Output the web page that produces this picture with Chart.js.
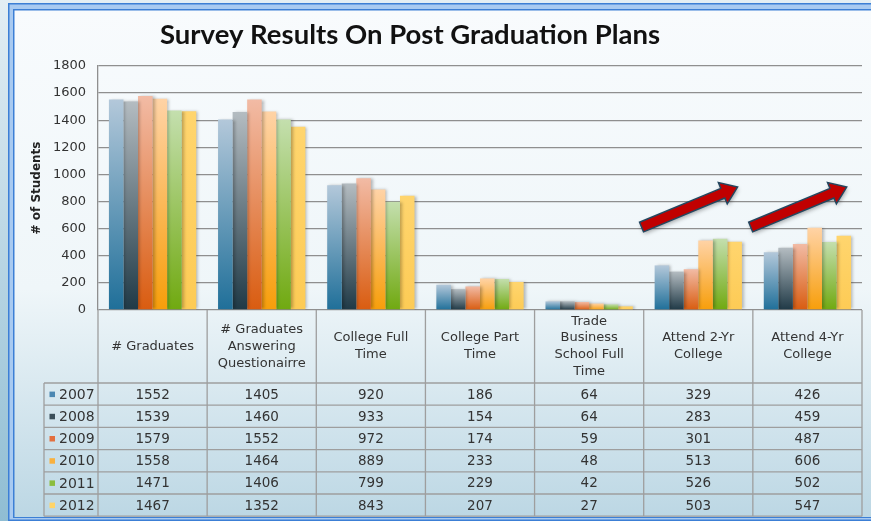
<!DOCTYPE html>
<html>
<head>
<meta charset="utf-8">
<script src="https://cdn.jsdelivr.net/npm/chart.js@4.4.1/dist/chart.umd.min.js"></script>
<style>
  html, body { margin: 0; padding: 0; overflow: hidden; }
</style>
</head>
<body>
<canvas id="myChart" width="871" height="521"></canvas>
<script>
// chart data
const categories = [
  ['# Graduates'],
  ['# Graduates', 'Answering', 'Questionairre'],
  ['College Full', 'Time'],
  ['College Part', 'Time'],
  ['Trade', 'Business', 'School Full', 'Time'],
  ['Attend 2-Yr', 'College'],
  ['Attend 4-Yr', 'College'],
];
const years = ['2007', '2008', '2009', '2010', '2011', '2012'];
const values2007 = [1552, 1405, 920, 186, 64, 329, 426];
const values2008 = [1539, 1460, 933, 154, 64, 283, 459];
const values2009 = [1579, 1552, 972, 174, 59, 301, 487];
const values2010 = [1558, 1464, 889, 233, 48, 513, 606];
const values2011 = [1471, 1406, 799, 229, 42, 526, 502];
const values2012 = [1467, 1352, 843, 207, 27, 503, 547];
const yMin = 0;
const yMax = 1800;
const yStep = 200;
const arrowCategories = [5, 6]; // the two red arrows over the college columns

const series = [values2007, values2008, values2009, values2010, values2011, values2012];

// colours for each year
const topColors = ['#b3c8da', '#b4bcc1', '#f2bba5', '#ffd3a6', '#c4dfae', '#ffd56e'];
const bottomColors = ['#1f6f99', '#1f3946', '#d95c10', '#f79e0a', '#70a910', '#fdcb55'];
const keyColors = ['#4b87b2', '#3b4f5a', '#e37040', '#f9b13e', '#8bbd3e', '#ffd468'];

const gridColor = '#8f8f8f';
const tableLine = '#9e9e9e';
const textColor = '#333333';

function barGradient(context, i) {
  const chart = context.chart;
  const y = chart.scales.y;
  if (!chart.chartArea || !y || typeof context.raw !== 'number') return keyColors[i];
  const top = y.getPixelForValue(context.raw);
  const bottom = y.getPixelForValue(0);
  const g = chart.ctx.createLinearGradient(0, top, 0, bottom);
  g.addColorStop(0, topColors[i]);
  g.addColorStop(1, bottomColors[i]);
  return g;
}

// slide background, blue frame and title
const backdrop = {
  id: 'backdrop',
  beforeDraw(chart) {
    const { ctx, width, height } = chart;
    ctx.save();
    let g = ctx.createLinearGradient(0, 0, 0, height);
    g.addColorStop(0, '#e3eef4');
    g.addColorStop(1, '#8fbdd3');
    ctx.fillStyle = g;
    ctx.fillRect(0, 0, width, height);

    ctx.fillStyle = '#3c7fd5';
    ctx.fillRect(8, 3, width, 518);
    ctx.fillStyle = '#a8caf1';
    ctx.fillRect(9.5, 4.5, width, 515);
    ctx.fillStyle = '#3c7fd5';
    ctx.fillRect(13, 9, width, 509);

    g = ctx.createLinearGradient(0, 10, 0, 517);
    g.addColorStop(0, '#f8fbfd');
    g.addColorStop(0.55, '#eff6f9');
    g.addColorStop(1, '#bcd7e4');
    ctx.fillStyle = g;
    ctx.fillRect(14.5, 10.5, width, 506.5);

    ctx.fillStyle = '#111';
    ctx.font = 'bold 27.5px Lato';
    ctx.textAlign = 'center';
    ctx.textBaseline = 'middle';
    ctx.fillText('Survey Results On Post Graduation Plans', 410, 35);
    ctx.restore();
  },
};

// soft shadow under the bars, then the red arrows
const barShadow = {
  id: 'barShadow',
  beforeDatasetsDraw(chart) {
    const ctx = chart.ctx;
    ctx.save();
    ctx.shadowColor = 'rgba(0,0,0,0.28)';
    ctx.shadowBlur = 3;
    ctx.shadowOffsetX = 2;
  },
  afterDatasetsDraw(chart) {
    const { ctx, scales: { x, y } } = chart;
    ctx.restore();

    arrowCategories.forEach((c) => {
      const x0 = x.getPixelForValue(c - 0.52), y0 = y.getPixelForValue(612);
      const x1 = x.getPixelForValue(c + 0.36), y1 = y.getPixelForValue(907);
      const len = Math.hypot(x1 - x0, y1 - y0);
      const ux = (x1 - x0) / len, uy = (y1 - y0) / len;
      const nx = -uy, ny = ux;
      const sw = 5.2, hw = 11.5, hl = 16;
      const bx = x1 - ux * hl, by = y1 - uy * hl;
      ctx.save();
      ctx.shadowColor = 'rgba(0,0,0,0.35)';
      ctx.shadowBlur = 4;
      ctx.shadowOffsetX = 1;
      ctx.shadowOffsetY = 2;
      ctx.beginPath();
      ctx.moveTo(x0 + nx * sw, y0 + ny * sw);
      ctx.lineTo(bx + nx * sw, by + ny * sw);
      ctx.lineTo(bx + nx * hw, by + ny * hw);
      ctx.lineTo(x1, y1);
      ctx.lineTo(bx - nx * hw, by - ny * hw);
      ctx.lineTo(bx - nx * sw, by - ny * sw);
      ctx.lineTo(x0 - nx * sw, y0 - ny * sw);
      ctx.closePath();
      ctx.fillStyle = '#c00000';
      ctx.fill();
      ctx.shadowColor = 'transparent';
      ctx.lineWidth = 1.5;
      ctx.strokeStyle = '#24475f';
      ctx.stroke();
      ctx.restore();
    });
  },
};

// data table under the plot
const dataTable = {
  id: 'dataTable',
  afterDraw(chart) {
    const { ctx, chartArea, scales: { x } } = chart;
    const edges = categories.map((c, i) => x.getPixelForValue(i - 0.5));
    edges.push(x.getPixelForValue(categories.length - 0.5));
    const top = chartArea.bottom;
    const headerH = 73;
    const rowH = 22.2;
    const keyLeft = 44;
    const headBottom = top + headerH;
    const bottom = headBottom + rowH * years.length;
    const right = edges[edges.length - 1];

    ctx.save();
    ctx.strokeStyle = tableLine;
    ctx.lineWidth = 1.3;
    ctx.beginPath();
    edges.forEach((e) => {
      ctx.moveTo(e, top);
      ctx.lineTo(e, bottom);
    });
    ctx.moveTo(keyLeft, headBottom);
    ctx.lineTo(keyLeft, bottom);
    for (let r = 0; r <= years.length; r++) {
      const yy = headBottom + rowH * r;
      ctx.moveTo(keyLeft, yy);
      ctx.lineTo(right, yy);
    }
    ctx.stroke();

    ctx.fillStyle = textColor;
    ctx.textAlign = 'center';
    ctx.textBaseline = 'middle';
    ctx.font = '13px "DejaVu Sans"';
    categories.forEach((lines, i) => {
      const cx = (edges[i] + edges[i + 1]) / 2;
      const lh = 16.8;
      const start = top + headerH / 2 - (lines.length - 1) * lh / 2;
      lines.forEach((t, k) => ctx.fillText(t, cx, start + k * lh));
    });

    series.forEach((vals, r) => {
      const cy = headBottom + rowH * r + rowH / 2;
      ctx.fillStyle = textColor;
      ctx.textAlign = 'center';
      ctx.font = '13.5px "DejaVu Sans"';
      vals.forEach((v, i) => {
        ctx.fillText(String(v), (edges[i] + edges[i + 1]) / 2, cy + 1);
      });
      ctx.fillStyle = keyColors[r];
      ctx.fillRect(49.5, cy - 2.5, 5.5, 5.5);
      ctx.fillStyle = textColor;
      ctx.textAlign = 'left';
      ctx.font = '14px "DejaVu Sans"';
      ctx.fillText(years[r], 59, cy + 1);
    });
    ctx.restore();
  },
};

const ctx = document.getElementById('myChart').getContext('2d');
new Chart(ctx, {
  type: 'bar',
  data: {
    labels: categories,
    datasets: series.map((vals, i) => ({
      label: years[i],
      data: vals,
      backgroundColor: (context) => barGradient(context, i),
      borderWidth: 0,
      categoryPercentage: 0.8,
      barPercentage: 1.0,
    })),
  },
  options: {
    responsive: false,
    animation: false,
    layout: {
      padding: { top: 66, left: 30, right: 9, bottom: 211 },
    },
    scales: {
      x: {
        display: false,
      },
      y: {
        min: yMin,
        max: yMax,
        ticks: {
          stepSize: yStep,
          color: textColor,
          padding: 12,
          font: { family: 'DejaVu Sans', size: 13 },
          callback: (value) => String(value),
        },
        grid: {
          color: gridColor,
          lineWidth: 1.3,
          drawTicks: false,
        },
        border: { display: true, color: gridColor, width: 1.3 },
        title: {
          display: true,
          text: '# of Students',
          color: '#222',
          font: { family: 'DejaVu Sans', size: 12, weight: 'bold' },
          padding: { top: 0, bottom: 0 },
        },
        afterFit(scale) {
          scale.width = 68;
        },
      },
    },
    plugins: {
      legend: { display: false },
      tooltip: { enabled: false },
    },
  },
  plugins: [backdrop, barShadow, dataTable],
});
</script>
</body>
</html>
